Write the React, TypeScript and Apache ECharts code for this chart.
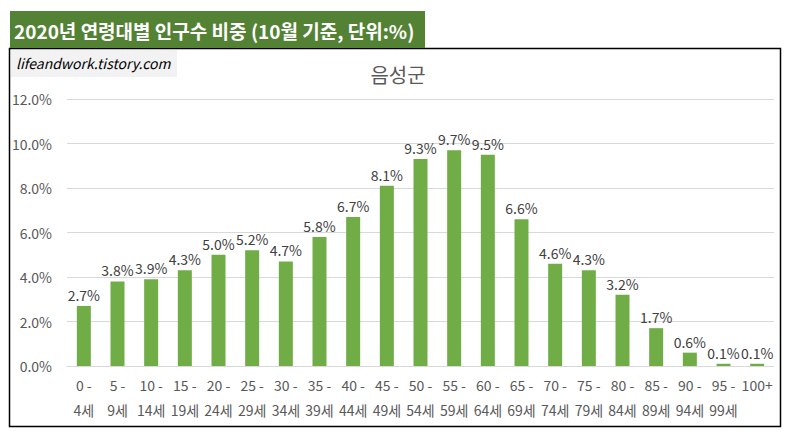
import React, { useEffect, useRef } from "react";
import * as echarts from "echarts";

const categories = [
  "0 -\n4세", "5 -\n9세", "10 -\n14세", "15 -\n19세", "20 -\n24세", "25 -\n29세", "30 -\n34세",
  "35 -\n39세", "40 -\n44세", "45 -\n49세", "50 -\n54세", "55 -\n59세", "60 -\n64세", "65 -\n69세",
  "70 -\n74세", "75 -\n79세", "80 -\n84세", "85 -\n89세", "90 -\n94세", "95 -\n99세", "100+",
];
const values = [2.7, 3.8, 3.9, 4.3, 5.0, 5.2, 4.7, 5.8, 6.7, 8.1, 9.3, 9.7, 9.5, 6.6, 4.6, 4.3, 3.2, 1.7, 0.6, 0.1, 0.1];
const headerTitle = "2020년 연령대별 인구수 비중 (10월 기준, 단위:%)";
const chartTitle = "음성군";
const watermark = "lifeandwork.tistory.com";

const FONT = "'Noto Sans CJK KR', 'Noto Sans', sans-serif";

export default function App() {
  const ref = useRef<HTMLDivElement>(null);
  useEffect(() => {
    if (!ref.current) return;
    const chart = echarts.init(ref.current, null, { renderer: "svg" });
    chart.setOption({
      animation: false,
      backgroundColor: "#ffffff",
      textStyle: { fontFamily: FONT },
      graphic: [
        { type: "rect", shape: { x: 9.5, y: 48.5, width: 771, height: 378 }, style: { fill: "#fff", stroke: "#000", lineWidth: 1.5 }, z: -10 },
        { type: "rect", shape: { x: 10, y: 11, width: 415, height: 37 }, style: { fill: "#548235" } },
        { type: "text", x: 14, y: 30, style: { text: headerTitle, fill: "#fff", font: `bold 19px ${FONT}`, verticalAlign: "middle" } },
        { type: "rect", shape: { x: 11, y: 50, width: 166, height: 27 }, style: { fill: "#f2f2f2" } },
        { type: "text", x: 16, y: 63, style: { text: watermark, fill: "#000", font: `italic 14px ${FONT}`, verticalAlign: "middle" } },
      ],
      title: {
        text: chartTitle,
        left: 393,
        top: 59,
        textAlign: "center",
        textStyle: { fontSize: 20, fontWeight: "normal", color: "#595959", fontFamily: FONT },
      },
      grid: { left: 67, right: 14, top: 99, bottom: 69 },
      xAxis: {
        type: "category",
        data: categories,
        axisLine: { lineStyle: { color: "#d9d9d9" } },
        axisTick: { show: false },
        axisLabel: { interval: 0, color: "#595959", fontSize: 14, lineHeight: 25, margin: 6, fontFamily: FONT },
      },
      yAxis: {
        type: "value",
        min: 0,
        max: 12,
        interval: 2,
        axisLine: { show: false },
        axisTick: { show: false },
        splitLine: { lineStyle: { color: "#d9d9d9" } },
        axisLabel: { color: "#595959", fontSize: 14, margin: 15, fontFamily: FONT, formatter: (v: number) => v.toFixed(1) + "%" },
      },
      series: [
        {
          type: "bar",
          data: values,
          barWidth: 14,
          itemStyle: { color: "#70ad47" },
          label: {
            show: true,
            position: "top",
            distance: 4,
            color: "#404040",
            fontSize: 14,
            fontFamily: FONT,
            formatter: (p: any) => Number(p.value).toFixed(1) + "%",
          },
        },
      ],
    });
    return () => chart.dispose();
  }, []);
  return <div ref={ref} style={{ position: "absolute", left: 0, top: 0, width: 788, height: 435 }} />;
}
